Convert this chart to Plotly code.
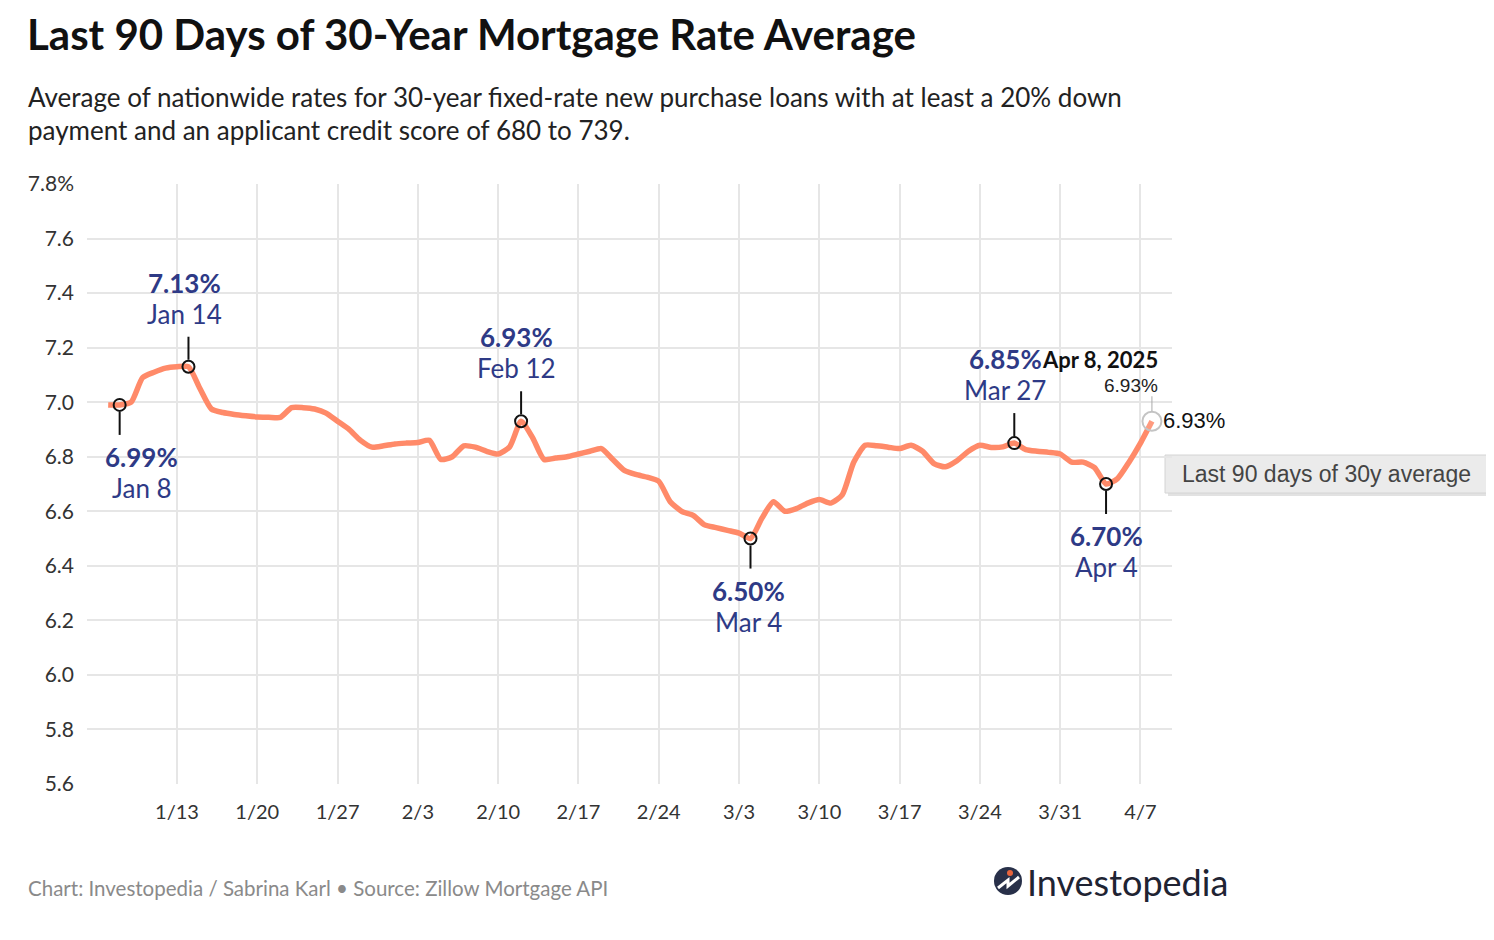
import plotly.graph_objects as go
import pandas as pd

# ---------------- data ----------------
start_date = "2025-01-07"
end_date = "2025-04-08"
rates = [
    # Jan 7 - Jan 31
    6.99, 6.99, 7.00, 7.09, 7.11, 7.125, 7.13, 7.13, 7.05, 6.975,
    6.962, 6.955, 6.95, 6.946, 6.945, 6.944, 6.98, 6.98, 6.975, 6.96,
    6.93, 6.90, 6.86, 6.835, 6.84,
    # Feb 1 - Feb 28
    6.847, 6.85, 6.852, 6.86, 6.79, 6.80, 6.84, 6.835, 6.82, 6.81,
    6.836, 6.93, 6.87, 6.79, 6.795, 6.80, 6.81, 6.82, 6.83, 6.79,
    6.75, 6.735, 6.725, 6.71, 6.635, 6.60, 6.585, 6.55,
    # Mar 1 - Mar 31
    6.54, 6.53, 6.52, 6.50, 6.575, 6.635, 6.60, 6.61, 6.63, 6.643,
    6.63, 6.66, 6.78, 6.842, 6.84, 6.835, 6.83, 6.842, 6.82, 6.775,
    6.763, 6.785, 6.82, 6.842, 6.834, 6.836, 6.85, 6.826, 6.82, 6.816,
    6.81,
    # Apr 1 - Apr 8
    6.78, 6.78, 6.76, 6.70, 6.72, 6.78, 6.85, 6.93,
]
dates = pd.date_range(start_date, end_date, freq="D")

highlight_dates = ["2025-01-08", "2025-01-14", "2025-02-12", "2025-03-04", "2025-03-27", "2025-04-04"]
highlight_values = [6.99, 7.13, 6.93, 6.50, 6.85, 6.70]
highlight_pct = ["6.99%", "7.13%", "6.93%", "6.50%", "6.85%", "6.70%"]
highlight_day = ["Jan 8", "Jan 14", "Feb 12", "Mar 4", "Mar 27", "Apr 4"]
highlight_side = ["below", "above", "above", "below", "above", "below"]

last_date = "2025-04-08"
last_value = 6.93
last_label = "Apr 8, 2025"

y_tick_vals = [5.6, 5.8, 6.0, 6.2, 6.4, 6.6, 6.8, 7.0, 7.2, 7.4, 7.6, 7.8]
y_tick_text = ["5.6", "5.8", "6.0", "6.2", "6.4", "6.6", "6.8", "7.0", "7.2", "7.4", "7.6", "7.8%"]
x_tick_vals = ["2025-01-13", "2025-01-20", "2025-01-27", "2025-02-03", "2025-02-10", "2025-02-17",
               "2025-02-24", "2025-03-03", "2025-03-10", "2025-03-17", "2025-03-24", "2025-03-31", "2025-04-07"]
x_tick_text = ["1/13", "1/20", "1/27", "2/3", "2/10", "2/17", "2/24", "3/3", "3/10", "3/17", "3/24", "3/31", "4/7"]

series_name = "Last 90 days of 30y average"
title = "Last 90 Days of 30-Year Mortgage Rate Average"
subtitle1 = "Average of nationwide rates for 30-year fixed-rate new purchase loans with at least a 20% down"
subtitle2 = "payment and an applicant credit score of 680 to 739."
footer = "Chart: Investopedia / Sabrina Karl \u2022 Source: Zillow Mortgage API"
brand = "Investopedia"

# ---------------- layout geometry (screen pixels) ----------------
W, H = 1494, 940
OFF = 8                       # page body margin
L, R, T, B = 87, 1172, 184, 784
FONT = "Lato"
TIPFONT = "Liberation Sans"
LINE = "#FF8A69"
NAVY = "#2E3A86"


def px_x(px):
    return (px - L) / (R - L)


def px_y(py):
    return (B - py) / (B - T)


fig = go.Figure()

fig.add_trace(go.Scatter(
    x=dates, y=rates, mode="lines", name=series_name,
    line=dict(color=LINE, width=5.5, shape="spline", smoothing=0.6),
    hoverinfo="skip", showlegend=False,
))

fig.add_trace(go.Scatter(
    x=pd.to_datetime(highlight_dates), y=highlight_values, mode="markers",
    marker=dict(size=12, color="rgba(0,0,0,0)", line=dict(color="#111", width=2)),
    hoverinfo="skip", showlegend=False,
))

fig.add_trace(go.Scatter(
    x=[pd.Timestamp(last_date)], y=[last_value], mode="markers",
    marker=dict(size=19, color="rgba(255,255,255,0.15)", line=dict(color="#c4c4c4", width=2)),
    hoverinfo="skip", showlegend=False,
))

shapes = []
annotations = []
label_xshift = [22, -4, -5, -2, -9, 0]
for d, v, p, dl, side, xs in zip(highlight_dates, highlight_values, highlight_pct, highlight_day,
                                 highlight_side, label_xshift):
    up = side == "above"
    sgn = 1 if up else -1
    shapes.append(dict(
        type="line", xref="x", yref="y", x0=d, x1=d, ysizemode="pixel", yanchor=v,
        y0=7 * sgn, y1=30 * sgn,
        line=dict(color="#111", width=2), layer="above",
    ))
    pct_shift = 84 if up else -52
    day_shift = 53 if up else -83
    annotations.append(dict(
        x=d, y=v, xref="x", yref="y", showarrow=False, text=f"<b>{p}</b>",
        font=dict(family=FONT, size=26, color=NAVY),
        xanchor="center", yanchor="middle", yshift=pct_shift, xshift=xs,
    ))
    annotations.append(dict(
        x=d, y=v, xref="x", yref="y", showarrow=False, text=dl,
        font=dict(family=FONT, size=26, color=NAVY),
        xanchor="center", yanchor="middle", yshift=day_shift, xshift=xs,
    ))

# last point hover-style labels
shapes.append(dict(
    type="line", xref="x", yref="y", x0=last_date, x1=last_date, ysizemode="pixel", yanchor=last_value,
    y0=10, y1=25, line=dict(color="#aaaaaa", width=1), layer="above",
))
annotations += [
    dict(x=last_date, y=last_value, xref="x", yref="y", showarrow=False, text=f"{last_value:.2f}%",
         xanchor="left", yanchor="middle", xshift=9, yshift=1,
         font=dict(family=TIPFONT, size=22, color="#111")),
    dict(x=last_date, y=last_value, xref="x", yref="y", showarrow=False, text=f"{last_value:.2f}%",
         xanchor="right", yanchor="middle", xshift=8, yshift=36,
         font=dict(family=TIPFONT, size=19, color="#222")),
    dict(x=last_date, y=last_value, xref="x", yref="y", showarrow=False, text=f"<b>{last_label}</b>",
         xanchor="right", yanchor="middle", xshift=8, yshift=62,
         font=dict(family=FONT, size=22, color="#111")),
    dict(x=px_x(1326), y=px_y(474), xref="paper", yref="paper", showarrow=False, text=series_name,
         xanchor="center", yanchor="middle",
         font=dict(family=TIPFONT, size=23, color="#444")),
]
# tooltip-like box
shapes.append(dict(type="rect", xref="paper", yref="paper", x0=px_x(1168), x1=px_x(1490),
                   y0=px_y(496), y1=px_y(458), fillcolor="#e2e2e2", line=dict(width=0), layer="below"))
shapes.append(dict(type="rect", xref="paper", yref="paper", x0=px_x(1165), x1=px_x(1487),
                   y0=px_y(493), y1=px_y(455), fillcolor="#ebebeb", line=dict(color="#d4d4d4", width=1),
                   layer="below"))

# titles & footer
annotations += [
    dict(x=px_x(25), y=px_y(34), xref="paper", yref="paper", showarrow=False, text=f"<b>{title}</b>",
         xanchor="left", yanchor="middle", font=dict(family=FONT, size=42, color="#111")),
    dict(x=px_x(26), y=px_y(97), xref="paper", yref="paper", showarrow=False, text=subtitle1,
         xanchor="left", yanchor="middle", font=dict(family=FONT, size=26, color="#222")),
    dict(x=px_x(26), y=px_y(130), xref="paper", yref="paper", showarrow=False, text=subtitle2,
         xanchor="left", yanchor="middle", font=dict(family=FONT, size=26, color="#222")),
    dict(x=px_x(26), y=px_y(888), xref="paper", yref="paper", showarrow=False, text=footer,
         xanchor="left", yanchor="middle", font=dict(family=FONT, size=20.5, color="#8a8a8a")),
    dict(x=px_x(1025), y=px_y(882), xref="paper", yref="paper", showarrow=False, text=brand,
         xanchor="left", yanchor="middle", font=dict(family=FONT, size=36, color="#1f2433")),
]

# logo icon
shapes += [
    dict(type="circle", xref="paper", yref="paper", x0=px_x(994), x1=px_x(1022), y0=px_y(895), y1=px_y(867),
         fillcolor="#283049", line=dict(width=0), layer="above"),
    dict(type="path", xref="paper", yref="paper",
         path=f"M {px_x(998)} {px_y(888)} L {px_x(1008)} {px_y(880)} L {px_x(1008)} {px_y(886)} L {px_x(1019)} {px_y(877)}",
         line=dict(color="white", width=3), layer="above"),
    dict(type="circle", xref="paper", yref="paper", x0=px_x(1007), x1=px_x(1013), y0=px_y(876), y1=px_y(870),
         fillcolor="#E8643C", line=dict(width=0), layer="above"),
]

fig.update_layout(
    width=W, height=H,
    margin=dict(l=L - OFF, r=W - R + OFF, t=T - OFF, b=H - B + OFF),
    paper_bgcolor="white", plot_bgcolor="white",
    font=dict(family=FONT, color="#333"),
    shapes=shapes, annotations=annotations,
    showlegend=False,
)
fig.update_xaxes(
    range=["2025-01-05 03:40", "2025-04-09 18:00"],
    tickvals=pd.to_datetime(x_tick_vals), ticktext=x_tick_text,
    showgrid=True, gridcolor="#e6e6e6", gridwidth=2, zeroline=False, showline=False,
    tickfont=dict(family=FONT, size=20, color="#333"), ticks="", ticklabelstandoff=14,
)
fig.update_yaxes(
    range=[5.6, 7.8], tickvals=y_tick_vals, ticktext=y_tick_text,
    showgrid=True, gridcolor="#e6e6e6", gridwidth=2, zeroline=False, showline=False,
    tickfont=dict(family=FONT, size=21, color="#333"), ticks="", ticklabelstandoff=12,
)

fig.write_html("out.html")
